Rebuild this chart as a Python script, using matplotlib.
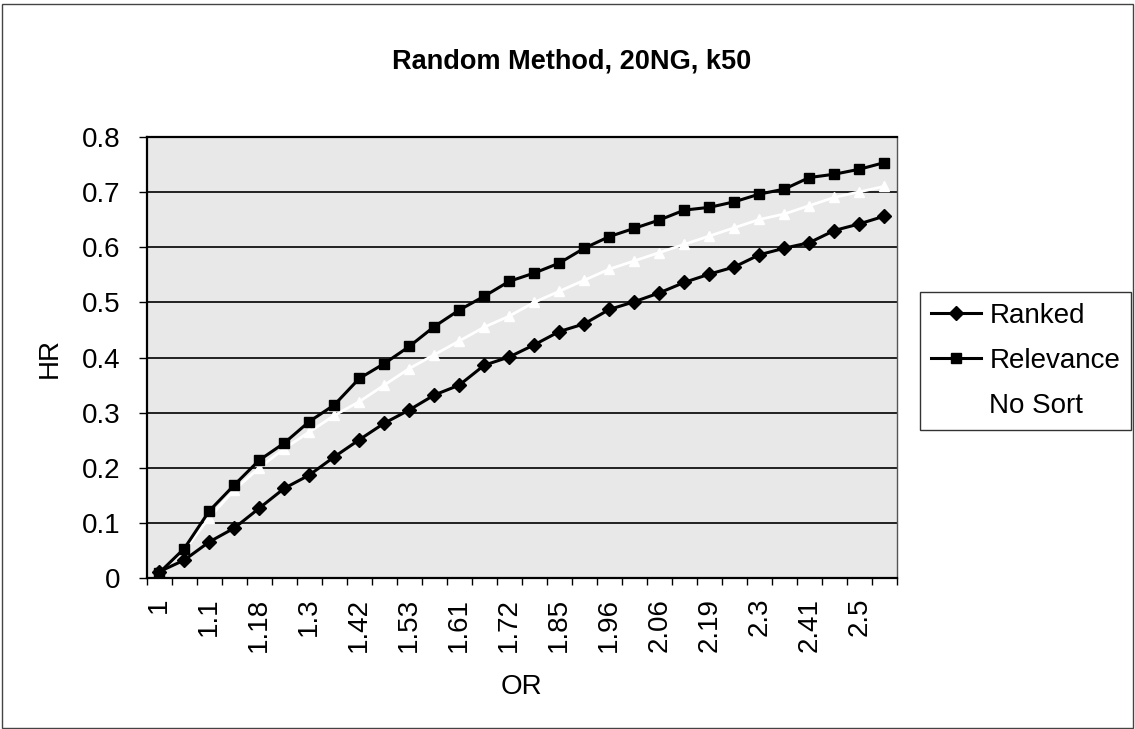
import matplotlib
matplotlib.use("Agg")
import matplotlib.pyplot as plt
from matplotlib.patches import Rectangle

plt.rcParams['font.family'] = ['Liberation Sans', 'DejaVu Sans']

# OR categories (only every other one is labelled on the axis)
or_values = ['1', '1.05', '1.1', '1.14', '1.18', '1.24', '1.3', '1.36', '1.42', '1.48',
             '1.53', '1.57', '1.61', '1.66', '1.72', '1.78', '1.85', '1.9', '1.96', '2.01',
             '2.06', '2.12', '2.19', '2.25', '2.3', '2.35', '2.41', '2.46', '2.5', '2.55']

ranked = [0.012, 0.033, 0.066, 0.091, 0.127, 0.163, 0.187, 0.220, 0.251, 0.281,
          0.305, 0.332, 0.350, 0.386, 0.401, 0.423, 0.447, 0.461, 0.487, 0.501,
          0.517, 0.536, 0.551, 0.564, 0.586, 0.598, 0.608, 0.630, 0.642, 0.656]

relevance = [0.010, 0.054, 0.122, 0.169, 0.214, 0.245, 0.284, 0.314, 0.362, 0.389,
             0.420, 0.456, 0.486, 0.511, 0.538, 0.553, 0.571, 0.598, 0.619, 0.634,
             0.649, 0.667, 0.672, 0.682, 0.696, 0.705, 0.726, 0.732, 0.741, 0.753]

# drawn in a pale colour that vanished in the scan
no_sort = [0.010, 0.050, 0.110, 0.160, 0.200, 0.235, 0.265, 0.295, 0.320, 0.350,
           0.380, 0.405, 0.430, 0.455, 0.475, 0.500, 0.520, 0.540, 0.560, 0.575,
           0.590, 0.605, 0.620, 0.635, 0.650, 0.660, 0.675, 0.690, 0.700, 0.710]

x = list(range(len(or_values)))

fig = plt.figure(figsize=(11.35, 7.29), dpi=100)
ax = fig.add_axes([0.1293, 0.2067, 0.6608, 0.6058])
ax.set_facecolor('#e8e8e8')

ax.plot(x, no_sort, color='white', marker='^', markersize=7, linewidth=2, label='No Sort', zorder=2)
ax.plot(x, ranked, color='black', marker='D', markersize=7.5, linewidth=2.2, label='Ranked', zorder=4)
ax.plot(x, relevance, color='black', marker='s', markersize=7.5, linewidth=2.2, label='Relevance', zorder=3)

ax.set_xlim(-0.5, len(x) - 0.5)
ax.set_ylim(0, 0.8)
ax.set_yticks([0, 0.1, 0.2, 0.3, 0.4, 0.5, 0.6, 0.7, 0.8])
ax.set_yticklabels(['0', '0.1', '0.2', '0.3', '0.4', '0.5', '0.6', '0.7', '0.8'], fontsize=20)
ax.yaxis.grid(True, color='black', linewidth=1.2)
ax.set_axisbelow(True)

# labels on every other category, tick marks between categories
ax.set_xticks(x[::2])
ax.set_xticklabels(or_values[::2], rotation=90, fontsize=20)
ax.tick_params(axis='x', which='major', length=0, pad=14)
ax.set_xticks([i - 0.5 for i in range(len(x) + 1)], minor=True)
ax.tick_params(axis='x', which='minor', length=5, direction='out', width=1)
ax.tick_params(axis='y', length=6, width=1, pad=13)

for side in ['left', 'bottom', 'top']:
    ax.spines[side].set_linewidth(1.6)
ax.spines['right'].set_linewidth(1.0)
ax.spines['right'].set_color('#555555')

ax.set_xlabel('OR', fontsize=20, labelpad=16)
ax.set_ylabel('HR', fontsize=20, labelpad=14)
fig.text(0.504, 0.915, 'Random Method, 20NG, k50', ha='center', va='center',
         fontsize=19.5, fontweight='bold')

handles, labels = ax.get_legend_handles_labels()
order = [1, 2, 0]
leg = fig.legend([handles[i] for i in order], [labels[i] for i in order],
                 loc='center left', bbox_to_anchor=(0.8106, 0.505), fontsize=20,
                 frameon=True, fancybox=False, edgecolor='black', handlelength=1.8,
                 handletextpad=0.3, labelspacing=0.68, borderpad=0.4, borderaxespad=0)
leg.get_frame().set_linewidth(1.0)

fig.patches.append(Rectangle((0.002, 0.002), 0.996, 0.993, transform=fig.transFigure,
                             fill=False, edgecolor='#444444', linewidth=1.0))

fig.savefig('out.png', dpi=100)
